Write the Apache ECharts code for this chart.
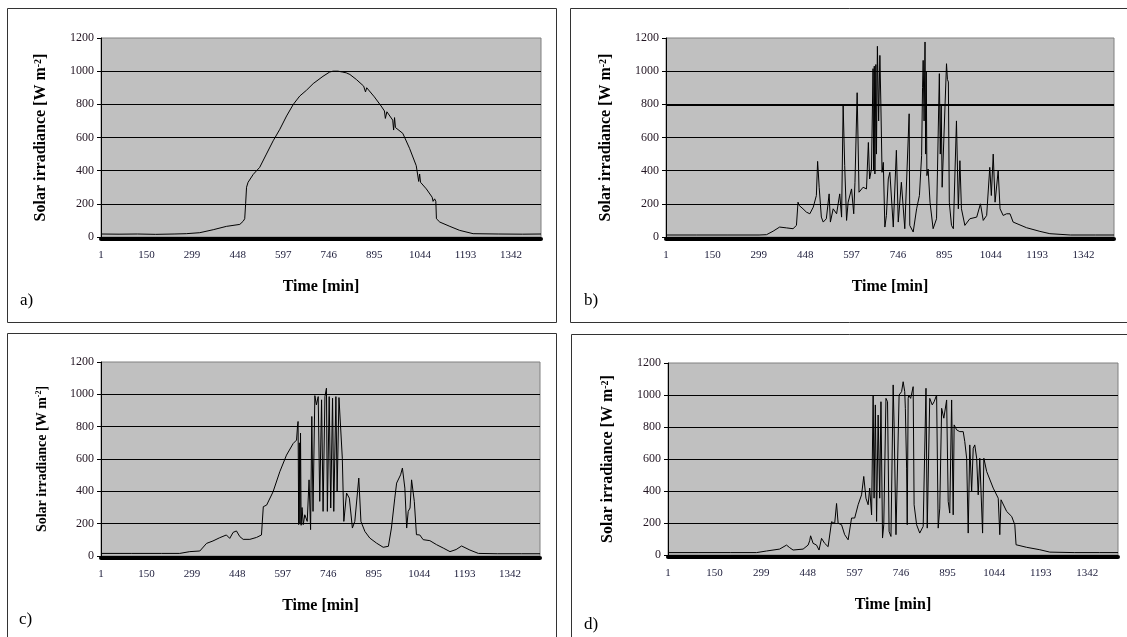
<!DOCTYPE html>
<html>
<head>
<meta charset="utf-8">
<script src="https://cdn.jsdelivr.net/npm/echarts@6/dist/echarts.min.js"></script>
<style>
    html, body { margin: 0; padding: 0; background: #fff; }
    #chart { width: 1127px; height: 637px; }
</style>
</head>
<body>
<div id="chart"></div>
<script>
    // x ticks are minute indexes 1, 150, 299 ... (step 149)
    var tickStep = 149;
    var lastMinute = 1440;

    // a) clear day
    var timeA = [1, 60, 120, 180, 240, 280, 324, 368, 411, 455, 466, 471, 474, 477, 482, 499, 520, 542, 564, 586,
        608, 630, 651, 673, 695, 727, 749, 760, 776, 790, 803, 815, 836, 860, 866, 870, 895, 917, 928, 931,
        936, 955, 958, 961, 964, 988, 1010, 1032, 1040, 1043, 1046, 1065, 1084, 1087, 1092, 1096, 1098, 1109, 1142, 1174,
        1218, 1300, 1380, 1440];
    var irrA = [18, 17, 18, 16, 18, 20, 26, 44, 64, 76, 95, 110, 200, 300, 330, 378, 420, 500, 580, 650,
        730, 800, 850, 885, 925, 969, 995, 1000, 1000, 995, 990, 980, 950, 910, 875, 900, 845, 790, 760, 715,
        755, 705, 645, 720, 660, 625, 535, 430, 335, 380, 330, 290, 240, 215, 230, 215, 110, 90, 64, 40,
        20, 18, 17, 18];

    // b) broken clouds
    var timeB = [1, 100, 200, 300, 324, 345, 366, 388, 409, 420, 425, 429, 441, 452, 463, 474, 484, 488, 493, 500,
        506, 516, 525, 529, 538, 549, 559, 565, 570, 575, 581, 586, 597, 604, 608, 615, 621, 634, 645, 651,
        655, 661, 666, 668, 670, 672, 675, 677, 680, 684, 688, 691, 695, 699, 704, 709, 715, 720, 725, 731,
        741, 747, 757, 763, 768, 782, 784, 795, 806, 815, 822, 825, 827, 830, 833, 835, 837, 839, 843, 849,
        859, 870, 879, 882, 885, 888, 892, 902, 905, 908, 911, 918, 924, 934, 940, 945, 950, 961, 977, 999,
        1011, 1020, 1031, 1041, 1046, 1052, 1058, 1068, 1074, 1084, 1095, 1106, 1116, 1159, 1202, 1234, 1300, 1380, 1440];
    var irrB = [12, 12, 12, 12, 14, 35, 60, 55, 50, 70, 210, 190, 170, 150, 140, 180, 250, 456, 300, 120,
        90, 110, 260, 90, 170, 140, 260, 120, 794, 430, 100, 210, 290, 140, 330, 870, 270, 300, 290, 570,
        350, 410, 1015, 400, 1030, 380, 1040, 500, 1150, 700, 1095, 814, 390, 450, 60, 130, 350, 390, 380, 60,
        523, 90, 330, 320, 50, 743, 70, 30, 170, 250, 490, 900, 1065, 700, 1176, 500, 1000, 370, 410, 210,
        50, 110, 985, 500, 800, 300, 290, 1045, 950, 935, 210, 70, 50, 700, 170, 460, 170, 70, 110, 120,
        200, 100, 130, 420, 250, 500, 210, 400, 170, 130, 140, 140, 90, 56, 34, 20, 12, 12, 12];

    // c) morning clear, midday clouds
    var timeC = [1, 100, 200, 259, 292, 325, 347, 368, 390, 412, 423, 434, 445, 456, 467, 489, 511, 527, 533, 544,
        565, 587, 609, 631, 642, 645, 647, 649, 651, 653, 655, 657, 660, 664, 669, 677, 683, 688, 692, 696,
        702, 707, 713, 718, 724, 729, 735, 740, 743, 749, 754, 760, 764, 771, 775, 781, 787, 792, 797, 806,
        815, 825, 833, 846, 853, 866, 882, 904, 926, 943, 953, 964, 970, 975, 983, 989, 997, 1003, 1008, 1014,
        1019, 1025, 1028, 1035, 1046, 1057, 1079, 1101, 1123, 1145, 1165, 1183, 1210, 1238, 1300, 1380, 1440];
    var irrC = [16, 16, 16, 16, 27, 31, 78, 93, 113, 130, 109, 146, 155, 120, 103, 103, 115, 130, 305, 315,
        397, 521, 624, 696, 717, 799, 832, 194, 700, 200, 760, 190, 300, 194, 255, 214, 471, 163, 863, 276,
        992, 935, 986, 338, 966, 276, 986, 1038, 276, 986, 297, 976, 276, 986, 400, 980, 976, 605, 214, 389,
        358, 173, 214, 482, 214, 152, 111, 80, 54, 60, 173, 358, 451, 441, 502, 544, 420, 173, 276, 297,
        471, 461, 338, 132, 130, 101, 95, 70, 49, 27, 40, 62, 37, 16, 14, 14, 14];

    // d) scattered clouds most of the day
    var timeD = [1, 100, 200, 284, 316, 358, 380, 390, 401, 433, 449, 454, 457, 465, 476, 484, 492, 502, 513, 524,
        534, 540, 545, 556, 566, 577, 588, 598, 609, 620, 627, 634, 641, 646, 652, 657, 660, 664, 668, 673,
        678, 682, 687, 691, 698, 703, 708, 714, 721, 724, 730, 735, 740, 748, 753, 755, 758, 760, 764, 766,
        769, 771, 777, 785, 788, 796, 806, 817, 826, 830, 838, 846, 852, 860, 865, 870, 876, 883, 892, 897,
        902, 908, 913, 916, 924, 934, 945, 950, 956, 961, 966, 972, 977, 982, 988, 993, 998, 1007, 1011, 1020,
        1041, 1057, 1062, 1066, 1084, 1100, 1110, 1114, 1148, 1190, 1222, 1300, 1380, 1440];
    var irrD = [15, 15, 15, 15, 25, 37, 62, 46, 31, 37, 62, 89, 120, 73, 62, 31, 104, 73, 52, 208,
        197, 322, 199, 189, 127, 95, 231, 231, 314, 376, 491, 355, 314, 418, 251, 1000, 355, 938, 210, 875,
        355, 958, 106, 189, 979, 958, 147, 116, 1063, 813, 127, 127, 1000, 1021, 1083, 1094, 1021, 917, 543, 189,
        979, 1000, 979, 1052, 314, 189, 137, 179, 1042, 168, 979, 938, 958, 1000, 168, 293, 917, 855, 969, 335,
        262, 969, 251, 813, 782, 771, 771, 709, 605, 137, 688, 397, 667, 688, 605, 376, 605, 137, 605, 522,
        418, 355, 127, 345, 272, 241, 189, 64, 48, 33, 18, 15, 15, 15];

    var yTicks = [0, 200, 400, 600, 800, 1000, 1200];

    var serif = '"Liberation Serif", "Times New Roman", serif';

    // x value = minute - 1 so that ticks fall on 1, 150, 299 ...
    function pairs(times, values) {
        return times.map(function (t, i) { return [t - 1, values[i]]; });
    }

    var panels = [
        {grid: {left: 101, top: 38, width: 440, height: 199}, data: pairs(timeA, irrA), nameSize: 16},
        {grid: {left: 666, top: 38, width: 448, height: 199}, data: pairs(timeB, irrB), nameSize: 16},
        {grid: {left: 101, top: 362, width: 439, height: 194}, data: pairs(timeC, irrC), nameSize: 14},
        {grid: {left: 668, top: 363, width: 450, height: 192}, data: pairs(timeD, irrD), nameSize: 16}
    ];

    var grids = [], xAxes = [], yAxes = [], series = [];

    panels.forEach(function (p, i) {
        grids.push(Object.assign({
            show: true,
            backgroundColor: '#c0c0c0',
            borderColor: '#808080',
            borderWidth: 1
        }, p.grid));

        xAxes.push({
            type: 'value',
            gridIndex: i,
            min: 0,
            max: lastMinute - 1,
            interval: tickStep,
            offset: 2,
            axisLine: {onZero: false, lineStyle: {color: '#000', width: 4}},
            axisTick: {show: false},
            splitLine: {show: false},
            axisLabel: {
                formatter: function (v) { return String(v + 1); },
                showMaxLabel: false,
                margin: 11,
                fontFamily: serif,
                fontSize: 11,
                color: '#1c1c3a'
            },
            name: 'Time [min]',
            nameLocation: 'middle',
            nameGap: 40,
            nameTextStyle: {fontFamily: serif, fontWeight: 'bold', fontSize: 16, color: '#000'}
        });

        yAxes.push({
            type: 'value',
            gridIndex: i,
            min: yTicks[0],
            max: yTicks[yTicks.length - 1],
            interval: yTicks[1] - yTicks[0],
            axisLine: {show: true, lineStyle: {color: '#000'}},
            axisTick: {show: true, length: 4, lineStyle: {color: '#000'}},
            splitLine: {showMinLine: false, showMaxLine: false, lineStyle: {color: '#000', width: 1}},
            axisLabel: {
                formatter: function (v) { return String(v); },
                margin: 7,
                fontFamily: serif,
                fontSize: 12,
                color: '#221522'
            },
            name: '{t|Solar irradiance [W m}{s|-2}{t|]}',
            nameLocation: 'middle',
            nameGap: 52,
            nameTextStyle: {
                rich: {
                    t: {fontFamily: serif, fontWeight: 'bold', fontSize: p.nameSize, color: '#000'},
                    s: {fontFamily: serif, fontWeight: 'bold', fontSize: p.nameSize - 6, color: '#000', verticalAlign: 'top'}
                }
            }
        });

        var s = {
            type: 'line',
            xAxisIndex: i,
            yAxisIndex: i,
            data: p.data,
            showSymbol: false,
            sampling: 'none',
            lineStyle: {color: '#000', width: 1},
            silent: true
        };
        // panel b: the 800 grid line is drawn heavier in the original
        if (i === 1) {
            s.markLine = {
                silent: true,
                symbol: 'none',
                label: {show: false},
                lineStyle: {color: '#000', width: 2, type: 'solid'},
                data: [{yAxis: 800}]
            };
        }
        series.push(s);
    });

    function frame(x, y, w, h) {
        return {
            type: 'rect',
            silent: true,
            shape: {x: x, y: y, width: w, height: h},
            style: {fill: 'none', stroke: '#333', lineWidth: 1}
        };
    }

    function tag(text, x, y) {
        return {
            type: 'text',
            silent: true,
            x: x,
            y: y,
            style: {text: text, font: '17px ' + serif, fill: '#000'}
        };
    }

    var chart = echarts.init(document.getElementById('chart'));
    chart.setOption({
        animation: false,
        grid: grids,
        xAxis: xAxes,
        yAxis: yAxes,
        series: series,
        graphic: [
            frame(7.5, 8.5, 549, 314),
            frame(570.5, 8.5, 570, 314),
            frame(7.5, 333.5, 549, 320),
            frame(571.5, 334.5, 570, 320),
            tag('a)', 20, 292),
            tag('b)', 584, 292),
            tag('c)', 19, 611),
            tag('d)', 584, 616)
        ]
    });
</script>
</body>
</html>
